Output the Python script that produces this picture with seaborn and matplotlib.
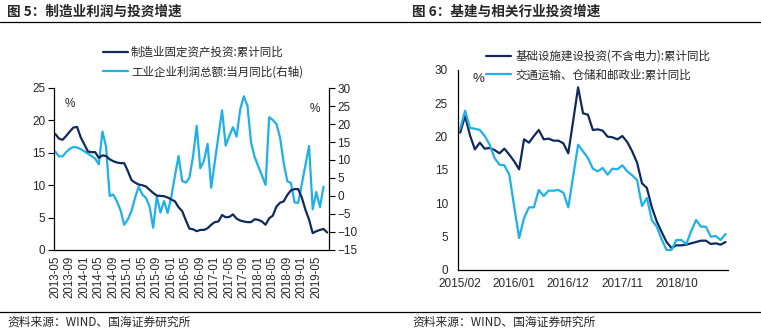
import numpy as np
import pandas as pd
import matplotlib
matplotlib.use("Agg")
import matplotlib.pyplot as plt
import seaborn as sns
from matplotlib.lines import Line2D

# ---------------- data: figure 5 (monthly, 2013-05 .. 2019-08) ----------------
left_start = "2013-05"
mfg_fai = [17.9, 17.2, 17.0, 17.6, 18.3, 18.9, 19.0, 17.4, 16.3, 15.2,
           15.1, 15.1, 14.2, 14.6, 14.5, 14.0, 13.7, 13.5, 13.4, 13.4,
           12.2, 10.8, 10.4, 10.1, 10.0, 9.8, 9.3, 8.8, 8.4, 8.35,
           8.3, 8.1, 7.8, 7.5, 6.6, 6.0, 4.6, 3.3, 3.2, 2.9,
           3.1, 3.1, 3.35, 3.9, 4.3, 4.4, 5.4, 5.05, 5.1, 5.5,
           4.85, 4.55, 4.4, 4.3, 4.3, 4.75, 4.65, 4.4, 3.9, 4.9,
           5.3, 6.7, 7.3, 7.5, 8.5, 9.2, 9.4, 9.4, 8.1, 6.2,
           4.7, 2.6, 2.9, 3.1, 3.25, 2.7]
ind_profit = [12.3, 11.0, 11.0, 12.2, 13.1, 13.6, 13.5, 13.0, 12.4, 11.8,
              11.1, 10.4, 8.8, 17.9, 13.7, 0.0, 0.4, -1.5, -4.0, -8.0,
              -6.5, -4.2, -0.5, 2.6, 0.4, -0.5, -2.9, -8.8, -0.1, -4.6,
              -1.4, -4.7, -0.2, 5.6, 11.1, 4.2, 3.7, 5.1, 11.0, 19.5,
              7.7, 9.8, 14.5, 2.3, 9.5, 16.7, 23.8, 14.0, 16.7, 19.1,
              16.5, 24.0, 27.7, 25.1, 14.9, 10.8, 8.2, 5.7, 3.1, 21.9,
              21.1, 20.0, 16.2, 9.2, 4.1, 3.6, -1.8, -1.9, 3.3, 8.6,
              13.9, -3.7, 1.1, -3.1, 2.6, np.nan]
left_names = ["制造业固定资产投资:累计同比", "工业企业利润总额:当月同比(右轴)"]

# ---------------- data: figure 6 (monthly, 2015/02 .. 2019/08) ----------------
right_start = "2015-02"
infra_fai = [20.6, 23.1, 20.2, 18.1, 19.1, 18.2, 18.3, 18.0, 17.5, 18.2,
             17.3, 16.3, 15.1, 19.6, 19.1, 20.1, 21.0, 19.6, 19.7, 19.4,
             19.4, 19.0, 17.5, 22.4, 27.4, 23.5, 23.3, 21.0, 21.1, 20.9,
             20.0, 19.9, 19.6, 20.1, 19.2, 17.8, 16.1, 13.0, 12.3, 9.4,
             7.3, 5.7, 4.2, 3.3, 3.7, 3.7, 3.8, 4.0, 4.2, 4.4,
             4.4, 3.9, 4.0, 3.8, 4.2]
transport_fai = [21.2, 23.9, 21.3, 21.2, 21.0, 20.1, 18.8, 16.8, 15.8, 15.7,
                 14.3, 9.5, 4.8, 7.8, 9.4, 9.4, 12.0, 11.1, 11.9, 11.9,
                 12.0, 11.6, 9.4, 14.1, 18.8, 17.8, 16.8, 15.2, 14.8, 15.3,
                 14.3, 15.2, 15.1, 15.7, 14.8, 14.2, 13.5, 9.6, 10.8, 7.5,
                 6.5, 4.6, 3.0, 3.0, 4.5, 4.5, 3.9, 5.8, 7.5, 6.5,
                 6.5, 5.0, 5.1, 4.5, 5.4]
right_names = ["基础设施建设投资(不含电力):累计同比", "交通运输、仓储和邮政业:累计同比"]

titles = ["图 5：制造业利润与投资增速", "图 6：基建与相关行业投资增速"]
source = "资料来源：WIND、国海证券研究所"

DARK = "#102a5c"
LIGHT = "#1fb0ea"

sns.set_theme(style="white")
plt.rcParams["font.family"] = ["Liberation Sans", "Noto Sans CJK SC", "DejaVu Sans"]
CJK = ["Noto Sans CJK SC", "DejaVu Sans"]

W, H = 761, 336
fig = plt.figure(figsize=(W / 100, H / 100), dpi=100)
fig.patch.set_facecolor("white")

def rect(x0, x1, ytop, ybot):
    return [x0 / W, 1 - ybot / H, (x1 - x0) / W, (ybot - ytop) / H]

# ---------------- left chart ----------------
nL = len(mfg_fai)
left_months = pd.period_range(left_start, periods=nL, freq="M").strftime("%Y-%m")
dfL = pd.DataFrame({"x": np.arange(nL), "fai": mfg_fai, "profit": ind_profit})

axL = fig.add_axes(rect(53.5, 329, 88, 250))
axR = axL.twinx()
sns.lineplot(data=dfL, x="x", y="fai", ax=axL, color=DARK, lw=1.6, legend=False)
sns.lineplot(data=dfL.dropna(), x="x", y="profit", ax=axR, color=LIGHT, lw=1.6, legend=False)
axL.set_zorder(axR.get_zorder() + 1)
axL.patch.set_visible(False)

axL.set_xlim(-0.5, nL - 0.5)
axL.set_ylim(0, 25)
axR.set_ylim(-15, 30)
axL.set_yticks(np.arange(0, 26, 5))
axR.set_yticks(np.arange(-15, 31, 5))
lab_idx = np.arange(0, nL, 4)
axL.set_xticks(lab_idx)
axL.set_xticklabels([left_months[i] for i in lab_idx], rotation=90)
axL.set_xticks(np.arange(-0.5, nL, 4), minor=True)
axL.tick_params(axis="x", which="major", length=0, pad=4, labelsize=8.3)
axL.tick_params(axis="x", which="minor", length=4, width=0.8, direction="out", color="black")
axL.tick_params(axis="y", length=4, width=0.8, direction="out", labelsize=8.5, pad=2, color="black")
axR.tick_params(axis="y", length=4, width=0.8, direction="out", labelsize=8.5, pad=2, color="black")
for a in (axL, axR):
    a.set_xlabel("")
    a.set_ylabel("")
    a.spines["top"].set_visible(False)
    for s in ("left", "right", "bottom"):
        a.spines[s].set_color("black")
        a.spines[s].set_linewidth(0.9)
    a.grid(False)
axL.spines["right"].set_visible(False)
axR.spines["left"].set_visible(False)
axR.spines["bottom"].set_visible(False)
axL.text(0.04, 0.94, "%", transform=axL.transAxes, fontsize=8.5, va="top")
axL.text(0.93, 0.91, "%", transform=axL.transAxes, fontsize=8.5, va="top")

hL = [Line2D([], [], color=DARK, lw=1.6), Line2D([], [], color=LIGHT, lw=1.6)]
fig.legend(hL, left_names, loc="upper left", bbox_to_anchor=(97 / W, 1 - 40 / H),
           frameon=False, borderpad=0, handlelength=2.2, handletextpad=0.25,
           labelspacing=0.55, prop={"family": CJK, "size": 8.3})

# ---------------- right chart ----------------
nR = len(infra_fai)
right_months = pd.period_range(right_start, periods=nR, freq="M").strftime("%Y/%m")
dfR = pd.DataFrame({"x": np.arange(nR), "infra": infra_fai, "transport": transport_fai})
ax2 = fig.add_axes(rect(457.7, 728, 70, 270))
sns.lineplot(data=dfR, x="x", y="infra", ax=ax2, color=DARK, lw=1.6, legend=False)
sns.lineplot(data=dfR, x="x", y="transport", ax=ax2, color=LIGHT, lw=1.6, legend=False)
ax2.set_xlim(-0.5, nR - 0.5)
ax2.set_ylim(0, 30)
ax2.set_yticks(np.arange(0, 31, 5))
idx2 = np.arange(0, nR, 11)
ax2.set_xticks(idx2)
ax2.set_xticklabels([right_months[i] for i in idx2])
ax2.set_xticks(np.arange(-0.5, nR, 11), minor=True)
ax2.tick_params(axis="x", which="major", length=0, pad=6, labelsize=8.5)
ax2.tick_params(axis="x", which="minor", length=4, width=0.8, direction="in", color="black")
ax2.tick_params(axis="y", length=3, width=0.8, direction="in", labelsize=8.5, pad=7, color="black")
ax2.set_xlabel("")
ax2.set_ylabel("")
ax2.grid(False)
for s in ("top", "right"):
    ax2.spines[s].set_visible(False)
for s in ("left", "bottom"):
    ax2.spines[s].set_color("black")
    ax2.spines[s].set_linewidth(0.9)
ax2.text(0.055, 0.985, "%", transform=ax2.transAxes, fontsize=9.5, va="top")

hR = [Line2D([], [], color=DARK, lw=1.6), Line2D([], [], color=LIGHT, lw=1.6)]
fig.legend(hR, right_names, loc="upper left", bbox_to_anchor=(480 / W, 1 - 44 / H),
           frameon=False, borderpad=0, handlelength=2.2, handletextpad=0.35,
           labelspacing=0.5, prop={"family": CJK, "size": 8.3})

# ---------------- titles, rules, sources ----------------
fig.text(7 / W, 1 - 12 / H, titles[0], fontsize=9.8, fontweight="bold", family=CJK, va="center")
fig.text(412 / W, 1 - 12 / H, titles[1], fontsize=9.8, fontweight="bold", family=CJK, va="center")
fig.add_artist(Line2D([0, 1], [1 - 21.5 / H, 1 - 21.5 / H], color="black", lw=0.9,
                      transform=fig.transFigure))
fig.add_artist(Line2D([0, 1], [1 - 311.5 / H, 1 - 311.5 / H], color="black", lw=0.9,
                      transform=fig.transFigure))
fig.text(7 / W, 1 - 322 / H, source, fontsize=8.5, family=CJK, va="center")
fig.text(412 / W, 1 - 322 / H, source, fontsize=8.5, family=CJK, va="center")

fig.savefig("out.png", dpi=100, facecolor="white")
